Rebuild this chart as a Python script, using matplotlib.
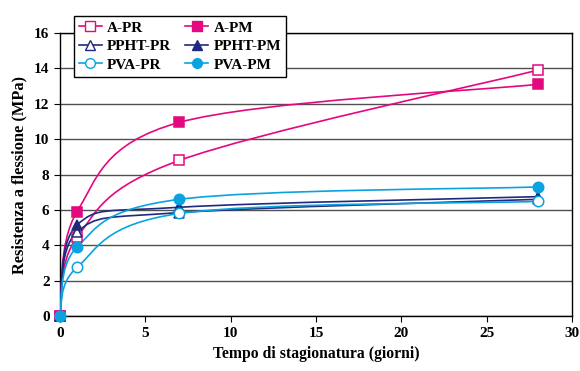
import numpy as np
import matplotlib
matplotlib.use("Agg")
import matplotlib.pyplot as plt
from matplotlib.path import Path
from matplotlib.patches import PathPatch

plt.rcParams['font.family'] = ['Liberation Serif', 'DejaVu Serif']
plt.rcParams['font.weight'] = 'bold'

# dati (giorni, MPa)
giorni = [0, 1, 7, 28]
a_pr = [0, 4.45, 8.8, 13.9]
a_pm = [0, 5.9, 10.95, 13.1]
ppht_pr = [0, 4.75, 5.85, 6.6]
ppht_pm = [0, 5.15, 6.15, 6.75]
pva_pr = [0, 2.75, 5.8, 6.48]
pva_pm = [0, 3.9, 6.6, 7.3]

rosa = '#E4087E'
blu = '#1F2A7C'
azzurro = '#0AA3E0'

series = [
    ("A-PR", a_pr, rosa, 's', 'white'),
    ("A-PM", a_pm, rosa, 's', rosa),
    ("PPHT-PR", ppht_pr, blu, '^', 'white'),
    ("PPHT-PM", ppht_pm, blu, '^', blu),
    ("PVA-PR", pva_pr, azzurro, 'o', 'white'),
    ("PVA-PM", pva_pm, azzurro, 'o', azzurro),
]


def smooth_path(x, y):
    # linea smussata tipo Excel (Catmull-Rom -> Bezier)
    p = np.column_stack([x, y]).astype(float)
    pts = np.vstack([p[0], p, p[-1]])
    verts = [p[0]]
    codes = [Path.MOVETO]
    for i in range(1, len(pts) - 2):
        c1 = pts[i] + (pts[i + 1] - pts[i - 1]) / 6
        c2 = pts[i + 1] - (pts[i + 2] - pts[i]) / 6
        verts += [c1, c2, pts[i + 1]]
        codes += [Path.CURVE4] * 3
    return Path(verts, codes)


fig = plt.figure(figsize=(5.8, 3.71), dpi=100)
ax = fig.add_axes([0.1034, 0.148, 0.8826, 0.763])

handles = {}
for name, vals, col, mk, fc in series:
    ax.add_patch(PathPatch(smooth_path(giorni, vals), fill=False, edgecolor=col, lw=1.2, zorder=3))
    ax.plot(giorni, vals, linestyle='none', marker=mk, markersize=7.5,
            markerfacecolor=fc, markeredgecolor=col, markeredgewidth=1.1, zorder=4, clip_on=False)
    h, = ax.plot([], [], color=col, lw=1.2, marker=mk, markersize=7,
                 markerfacecolor=fc, markeredgecolor=col)
    handles[name] = h

ax.set_xlim(0, 30)
ax.set_ylim(0, 16)
ax.set_xticks(range(0, 31, 5))
ax.set_yticks(range(0, 17, 2))
ax.yaxis.grid(True, color='#505050', lw=1.0)
ax.set_axisbelow(True)
for s in ax.spines.values():
    s.set_color('black')
    s.set_linewidth(1.0)
ax.tick_params(axis='both', direction='out', length=4, labelsize=11, color='black')
for lab in ax.get_xticklabels() + ax.get_yticklabels():
    lab.set_fontweight('bold')

ax.set_xlabel("Tempo di stagionatura (giorni)", fontsize=11.3, fontweight='bold', labelpad=5)
ax.set_ylabel("Resistenza a flessione (MPa)", fontsize=11.8, fontweight='bold', labelpad=5)

order = ["A-PR", "PPHT-PR", "PVA-PR", "A-PM", "PPHT-PM", "PVA-PM"]
leg = fig.legend([handles[n] for n in order], order, loc='upper left',
                 bbox_to_anchor=(74 / 580, 1 - 16 / 371), borderaxespad=0, ncol=2,
                 prop={'weight': 'bold', 'size': 11}, frameon=True, fancybox=False,
                 edgecolor='black', framealpha=1, handlelength=1.5, columnspacing=0.9,
                 labelspacing=0.32, borderpad=0.32, handletextpad=0.35)
leg.get_frame().set_linewidth(1.0)

fig.savefig("out.png", dpi=100)
